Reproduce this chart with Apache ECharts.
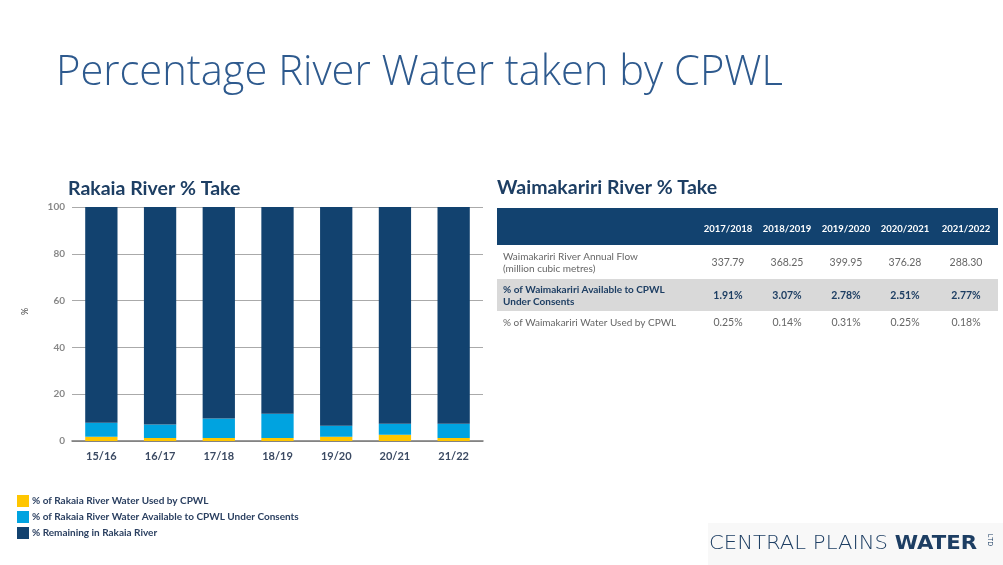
<!DOCTYPE html>
<html><head><meta charset="utf-8">
<script src="https://cdn.jsdelivr.net/npm/echarts@6/dist/echarts.min.js"></script>
<style>html,body{margin:0;padding:0;background:#fff}#c{width:1003px;height:565px}</style>
</head><body><div id="c"></div>
<script>
// ---- data ----
const seasons = ['15/16','16/17','17/18','18/19','19/20','20/21','21/22'];
const usedByCPWL = [1.8, 1.3, 1.3, 1.3, 1.8, 2.7, 1.3];
const availableUnderConsents = [6.0, 5.7, 8.3, 10.3, 4.7, 4.7, 6.1];
const remainingInRiver = [92.2, 93.0, 90.4, 88.4, 93.5, 92.6, 92.6];
const yTicks = [0, 20, 40, 60, 80, 100];
const legendNames = ['% of Rakaia River Water Used by CPWL', '% of Rakaia River Water Available to CPWL Under Consents', '% Remaining in Rakaia River'];

const tableYears = ['2017/2018','2018/2019','2019/2020','2020/2021','2021/2022'];
const annualFlow = ['337.79','368.25','399.95','376.28','288.30'];
const availablePct = ['1.91%','3.07%','2.78%','2.51%','2.77%'];
const usedPct = ['0.25%','0.14%','0.31%','0.25%','0.18%'];
const rowLabels = [['Waimakariri River Annual Flow','(million cubic metres)'], ['% of Waimakariri Available to CPWL','Under Consents'], ['% of Waimakariri Water Used by CPWL']];

const NAVY = '#12426f', CYAN = '#00a3e0', YELLOW = '#ffc600';
const FONT = 'Lato';

// ---- table graphic ----
const g = [];
g.push({type:'text', left:56, top:52, style:{text:'Percentage River Water taken by CPWL', font:'300 41.7px "Open Sans"', fill:'#2e5a8e'}});
g.push({type:'text', left:68, top:179, style:{text:'Rakaia River % Take', font:'bold 19.5px '+FONT, fill:'#1d3e63'}});
g.push({type:'text', left:497, top:178, style:{text:'Waimakariri River % Take', font:'bold 19.5px '+FONT, fill:'#1d3e63'}});
const tx0 = 497, tx1 = 998;
g.push({type:'rect', shape:{x:tx0, y:208, width:tx1-tx0, height:37}, style:{fill:NAVY}});
g.push({type:'rect', shape:{x:tx0, y:279, width:tx1-tx0, height:32}, style:{fill:'#d9d9d9'}});
const colX = [728, 787, 846, 905, 966];
tableYears.forEach((y,i)=>g.push({type:'text', x:colX[i], y:229, style:{text:y, font:'bold 9.5px '+FONT, fill:'#fff', align:'center', verticalAlign:'middle'}}));
const rows = [[annualFlow, 263, false, '#666'], [availablePct, 296, true, '#1d3e63'], [usedPct, 323, false, '#666']];
rows.forEach((r,ri)=>{
  const lines = rowLabels[ri];
  g.push({type:'text', x:503, y:r[1], style:{text:lines.join('\n'), font:(r[2]?'bold ':'')+'10px '+FONT, fill:r[3], verticalAlign:'middle', lineHeight:12}});
  r[0].forEach((v,i)=>g.push({type:'text', x:colX[i], y:r[1], style:{text:v, font:(r[2]?'bold ':'')+'10.5px '+FONT, fill:r[3], align:'center', verticalAlign:'middle'}}));
});
// logo
g.push({type:'rect', shape:{x:708, y:523, width:295, height:42}, style:{fill:'#f8f8f8'}});
g.push({type:'text', x:709, y:535, scaleX:1.115, originX:0, originY:0, style:{rich:{a:{font:'200 19px "DejaVu Sans"', fill:'#1d3e63'}, b:{font:'bold 19px "DejaVu Sans"', fill:'#1d3e63'}}, text:'{a|CENTRAL PLAINS }{b|WATER}'}});
g.push({type:'text', x:990, y:540, rotation:-Math.PI/2, style:{text:'LTD', font:'7px "Open Sans"', fill:'#1d3e63', align:'center', verticalAlign:'middle'}});

const chart = echarts.init(document.getElementById('c'));
chart.setOption({
  animation:false,
  textStyle:{fontFamily:FONT},
  graphic:g,
  legend:{orient:'vertical', left:12, top:490, itemWidth:12, itemHeight:12, itemGap:4, icon:'rect',
    textStyle:{fontSize:10, color:'#2a3f60', fontWeight:'bold', padding:[0,0,0,-2]}, data:legendNames},
  grid:{left:72, right:520, top:207, bottom:124},
  xAxis:{type:'category', data:seasons, axisTick:{show:false}, axisLine:{lineStyle:{color:'#777', width:1.5}},
    axisLabel:{color:'#3b4a63', fontWeight:'bold', fontSize:11, margin:10}},
  yAxis:{type:'value', min:0, max:100, interval:20, name:'%', nameLocation:'middle', nameGap:42, nameRotate:90,
    nameTextStyle:{color:'#444', fontSize:9, padding:[0,0,0,25]},
    axisLine:{show:false}, axisTick:{show:false},
    axisLabel:{color:'#888', fontSize:10, fontWeight:'bold', margin:7, formatter:v=>yTicks.includes(v)?String(v):''},
    splitLine:{lineStyle:{color:'#aaa'}}},
  series:[
    {name:legendNames[0], type:'bar', stack:'t', data:usedByCPWL, barWidth:'55%', itemStyle:{color:YELLOW}},
    {name:legendNames[1], type:'bar', stack:'t', data:availableUnderConsents, itemStyle:{color:CYAN}},
    {name:legendNames[2], type:'bar', stack:'t', data:remainingInRiver, itemStyle:{color:NAVY}}
  ]
});
</script></body></html>
